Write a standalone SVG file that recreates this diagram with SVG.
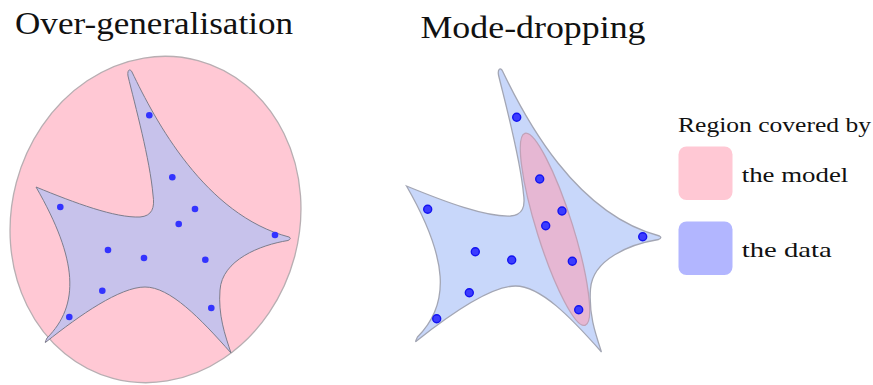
<svg xmlns="http://www.w3.org/2000/svg" xmlns:xlink="http://www.w3.org/1999/xlink" width="873" height="385" viewBox="0 0 873 385">
<style>
.title{font-family:"Liberation Serif","Times New Roman",serif;font-size:32px;fill:#111;}
.leg{font-family:"Liberation Serif","Times New Roman",serif;font-size:22px;fill:#111;}
.dotL{fill:#3333ff;}
.dotR{fill:#3c3cff;stroke:#1414f0;stroke-width:1.4;}
</style>
<defs>
<path id="star" d="M 128 76 C 127 70, 130 68, 132 72 C 155 120, 205 215, 289 237 Q 292 238.5, 288 240.5 C 260 245, 222 260, 220 290 C 218 315, 225 335, 231 353 C 200 318, 170 287, 145 287 C 120 287, 80 315, 46 342 Q 44 344, 47 338 C 80 305, 78 260, 36 187 C 75 203, 115 218, 140 217 C 152 216, 155 208, 153 195 C 150 160, 135 105, 128 76 Z"/>
</defs>
<rect width="873" height="385" fill="#ffffff"/>

<g id="title-over-generalisation"><text class="title" x="15" y="34" textLength="278" lengthAdjust="spacingAndGlyphs">Over-generalisation</text></g>
<g id="title-mode-dropping"><text class="title" x="420.5" y="37.5" textLength="225" lengthAdjust="spacingAndGlyphs">Mode-dropping</text></g>

<g id="model-region-left">
<ellipse cx="155.5" cy="219.5" rx="144" ry="164.5" transform="rotate(15 155.5 219.5)" fill="#ffc8d4" stroke="#b8aeb2" stroke-width="1.3"/>
</g>
<g id="data-region-left">
<use xlink:href="#star" href="#star" fill="#c7c2eb" stroke="#7d7d8c" stroke-width="1"/>
</g>
<g id="data-points-left">
<circle class="dotL" cx="149.3" cy="115.3" r="3.3"/>
<circle class="dotL" cx="172.3" cy="177.3" r="3.3"/>
<circle class="dotL" cx="195" cy="209" r="3.3"/>
<circle class="dotL" cx="178.7" cy="224" r="3.3"/>
<circle class="dotL" cx="60.3" cy="207" r="3.3"/>
<circle class="dotL" cx="275" cy="235" r="3.3"/>
<circle class="dotL" cx="108" cy="250" r="3.3"/>
<circle class="dotL" cx="144" cy="258" r="3.3"/>
<circle class="dotL" cx="205.3" cy="259.7" r="3.3"/>
<circle class="dotL" cx="102.3" cy="290.7" r="3.3"/>
<circle class="dotL" cx="69.3" cy="317" r="3.3"/>
<circle class="dotL" cx="211.3" cy="308" r="3.3"/>
</g>

<g id="data-region-right">
<use xlink:href="#star" href="#star" transform="translate(370.5 -1)" fill="#c8d7fa" stroke="#a3a6b4" stroke-width="1.3"/>
</g>
<g id="model-region-right">
<ellipse cx="555" cy="229.3" rx="100.6" ry="18" transform="rotate(72.6 555 229.3)" fill="#e6b7d3" stroke="#c0a2b8" stroke-width="1.3"/>
</g>
<g id="data-points-right">
<circle class="dotR" cx="516.7" cy="117.3" r="4"/>
<circle class="dotR" cx="539.7" cy="179" r="4"/>
<circle class="dotR" cx="562" cy="211" r="4"/>
<circle class="dotR" cx="545.7" cy="225.7" r="4"/>
<circle class="dotR" cx="427.7" cy="209.3" r="4"/>
<circle class="dotR" cx="642.7" cy="236.7" r="4"/>
<circle class="dotR" cx="475.3" cy="251.7" r="4"/>
<circle class="dotR" cx="511.7" cy="260" r="4"/>
<circle class="dotR" cx="572.3" cy="261.3" r="4"/>
<circle class="dotR" cx="469.3" cy="292.7" r="4"/>
<circle class="dotR" cx="436.7" cy="318.7" r="4"/>
<circle class="dotR" cx="578.7" cy="309.7" r="4"/>
</g>

<g id="legend">
<text class="leg" x="678" y="132.3" textLength="193" lengthAdjust="spacingAndGlyphs">Region covered by</text>
<g id="legend-model">
<rect x="678.5" y="146.5" width="54" height="53.5" rx="8" fill="#ffc8d4"/>
<text class="leg" x="741.7" y="181.7" textLength="106.6" lengthAdjust="spacingAndGlyphs">the model</text>
</g>
<g id="legend-data">
<rect x="678.5" y="221.5" width="54" height="53.5" rx="8" fill="#b2b6ff"/>
<text class="leg" x="741.7" y="256.7" textLength="90" lengthAdjust="spacingAndGlyphs">the data</text>
</g>
</g>
</svg>
